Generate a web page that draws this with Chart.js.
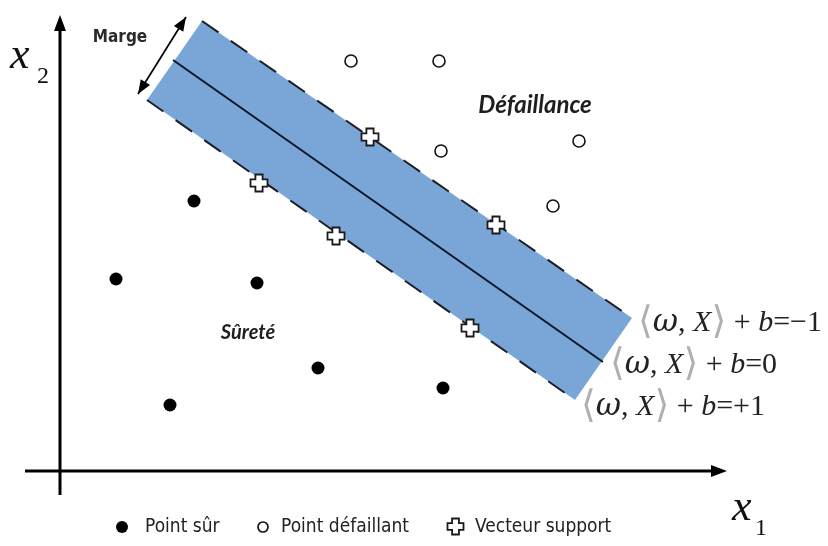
<!DOCTYPE html>
<html>
<head>
<meta charset="utf-8">
<script src="https://cdn.jsdelivr.net/npm/chart.js@4.4.0/dist/chart.umd.min.js"></script>
<style>
html,body{margin:0;background:#fff}
#wrap{width:828px;height:546px}
</style>
</head>
<body>
<div id="wrap"><canvas id="c"></canvas></div>
<script>
// coordonnées (x1, x2)
const surX = [13.4, 5.6, 19.7, 25.8, 11.0, 38.3];
const surY = [27.0, 19.2, 18.8, 10.3, 6.6, 8.3];
const defX = [29.1, 37.9, 38.1, 51.9, 49.3];
const defY = [41.0, 41.0, 32.0, 33.0, 26.5];
const supX = [31.0, 19.9, 27.6, 43.6, 41.0];
const supY = [33.4, 28.8, 23.5, 24.6, 14.3];

// hyperplan et bords de la marge
const hypX = [11.3, 54.3];
const hypY = [41.1, 10.9];
const hautX = [14.2, 57.2];
const hautY = [45.0, 15.3];
const basX = [8.7, 51.5];
const basY = [37.1, 7.1];

const legendLabels = ['Point sûr', 'Point défaillant', 'Vecteur support'];
const eqValues = ['−1', '0', '+1'];
const zoneLabels = ['Défaillance', 'Sûreté', 'Marge'];

const pts = (xs, ys) => xs.map((x, i) => ({x: x, y: ys[i]}));

function croix(s) {
	let c = document.createElement('canvas');
	c.width = s; c.height = s;
	let g = c.getContext('2d');
	let a = s / 2, L = s / 2 - 1.5, w = s * 0.18;
	let p = [[-w,-L],[w,-L],[w,-w],[L,-w],[L,w],[w,w],[w,L],[-w,L],[-w,w],[-L,w],[-L,-w],[-w,-w]];
	g.beginPath();
	p.forEach((q, i) => i ? g.lineTo(a + q[0], a + q[1]) : g.moveTo(a + q[0], a + q[1]));
	g.closePath();
	g.fillStyle = '#fff';
	g.fill();
	g.lineWidth = 1.8;
	g.strokeStyle = '#1a1a1a';
	g.stroke();
	return c;
}
const croixPoint = croix(20);
const croixLegende = croix(19);

function fleche(ctx, x0, y0, x1, y1, len, half) {
	let ang = Math.atan2(y1 - y0, x1 - x0);
	ctx.beginPath();
	ctx.moveTo(x1, y1);
	ctx.lineTo(x1 - len * Math.cos(ang) + half * Math.sin(ang), y1 - len * Math.sin(ang) - half * Math.cos(ang));
	ctx.lineTo(x1 - len * Math.cos(ang) - half * Math.sin(ang), y1 - len * Math.sin(ang) + half * Math.cos(ang));
	ctx.closePath();
	ctx.fill();
}

function equation(ctx, x, y, rhs) {
	let parts = [
		['⟨', '38px "DejaVu Serif"', '#b0b0b0'],
		['ω', 'italic 31px "DejaVu Serif"', '#222'],
		[', ', '30px "Liberation Serif"', '#222'],
		['X', 'italic 30px "Liberation Serif"', '#222'],
		['⟩', '38px "DejaVu Serif"', '#b0b0b0'],
		[' + ', '30px "Liberation Serif"', '#222'],
		['b', 'italic 30px "Liberation Serif"', '#222'],
		['=' + rhs, '30px "Liberation Serif"', '#222']
	];
	ctx.textBaseline = 'middle';
	ctx.textAlign = 'left';
	parts.forEach(p => {
		ctx.font = p[1];
		ctx.fillStyle = p[2];
		ctx.fillText(p[0], x, y);
		x += ctx.measureText(p[0]).width;
	});
}

const decor = {
	id: 'decor',
	afterDraw(chart) {
		let ctx = chart.ctx;
		let sx = chart.scales.x, sy = chart.scales.y;
		let X = v => sx.getPixelForValue(v), Y = v => sy.getPixelForValue(v);
		ctx.save();

		// axes
		ctx.strokeStyle = '#000';
		ctx.fillStyle = '#000';
		ctx.lineWidth = 3;
		ctx.beginPath();
		ctx.moveTo(X(-3.5), Y(0)); ctx.lineTo(X(65.5), Y(0));
		ctx.moveTo(X(0), Y(-2.4)); ctx.lineTo(X(0), Y(44.3));
		ctx.stroke();
		fleche(ctx, X(60), Y(0), X(66.7), Y(0), 16, 6);
		fleche(ctx, X(0), Y(40), X(0), Y(45.6), 16, 6);

		// double flèche de la marge
		ctx.lineWidth = 1.7;
		let a0 = [X(7.8), Y(37.7)], a1 = [X(12.6), Y(45.4)];
		ctx.beginPath();
		ctx.moveTo(a0[0], a0[1]); ctx.lineTo(a1[0], a1[1]);
		ctx.stroke();
		fleche(ctx, a0[0], a0[1], a1[0], a1[1], 14, 5.5);
		fleche(ctx, a1[0], a1[1], a0[0], a0[1], 14, 5.5);

		// libellés des axes
		ctx.fillStyle = '#111';
		ctx.textBaseline = 'alphabetic';
		ctx.textAlign = 'left';
		ctx.font = 'italic 44px "Liberation Serif"';
		ctx.fillText('x', 10, 68);
		ctx.fillText('x', 732, 520);
		ctx.font = '24px "Liberation Serif"';
		ctx.fillText('2', 37, 83);
		ctx.fillText('1', 755, 535);

		// zones
		ctx.textAlign = 'center';
		ctx.textBaseline = 'middle';
		ctx.fillStyle = '#1e1e1e';
		ctx.font = 'italic bold 24px Lato';
		ctx.fillText(zoneLabels[0], X(47.5), Y(36.6));
		ctx.font = 'italic bold 20px Lato';
		ctx.fillText(zoneLabels[1], X(18.8), Y(13.8));
		ctx.font = 'bold 17px "DejaVu Sans Condensed"';
		ctx.fillStyle = '#2a2a2a';
		ctx.fillText(zoneLabels[2], X(6.0), Y(43.3));

		// équations des hyperplans
		equation(ctx, X(57.8), Y(14.8), eqValues[0]);
		equation(ctx, X(55.0), Y(10.6), eqValues[1]);
		equation(ctx, X(52.1), Y(6.4), eqValues[2]);

		// légende
		let ly = 527;
		ctx.font = '19px "DejaVu Sans Condensed"';
		ctx.textAlign = 'left';
		ctx.beginPath(); ctx.arc(122, ly, 6, 0, 2 * Math.PI);
		ctx.fillStyle = '#000'; ctx.fill();
		ctx.fillStyle = '#222';
		ctx.fillText(legendLabels[0], 145, ly);
		ctx.beginPath(); ctx.arc(263, ly, 5, 0, 2 * Math.PI);
		ctx.lineWidth = 1.7; ctx.strokeStyle = '#111'; ctx.stroke();
		ctx.fillText(legendLabels[1], 281, ly);
		ctx.drawImage(croixLegende, 446, ly - 10);
		ctx.fillText(legendLabels[2], 475, ly);

		ctx.restore();
	}
};

let ctx = document.getElementById('c');
let bande = [
	{x: hautX[0], y: hautY[0]}, {x: hautX[1], y: hautY[1]},
	{x: basX[1], y: basY[1]}, {x: basX[0], y: basY[0]},
	{x: hautX[0], y: hautY[0]}
];

let data = {
	datasets: [
		{
			label: legendLabels[2],
			data: pts(supX, supY),
			pointStyle: croixPoint,
			pointRadius: 10
		},
		{
			label: legendLabels[0],
			data: pts(surX, surY),
			pointStyle: 'circle',
			pointRadius: 6.5,
			backgroundColor: '#000',
			borderColor: '#000',
			borderWidth: 0
		},
		{
			label: legendLabels[1],
			data: pts(defX, defY),
			pointStyle: 'circle',
			pointRadius: 6,
			backgroundColor: '#fff',
			borderColor: '#111',
			borderWidth: 1.6
		},
		{
			data: pts(hypX, hypY),
			showLine: true,
			pointRadius: 0,
			borderColor: '#0b1626',
			borderWidth: 2
		},
		{
			data: pts(hautX, hautY),
			showLine: true,
			pointRadius: 0,
			borderColor: '#1b1f26',
			borderWidth: 2,
			borderDash: [20, 15]
		},
		{
			data: pts(basX, basY),
			showLine: true,
			pointRadius: 0,
			borderColor: '#1b1f26',
			borderWidth: 2,
			borderDash: [20, 15]
		},
		{
			data: bande,
			showLine: true,
			pointRadius: 0,
			borderWidth: 0,
			borderColor: 'rgba(0,0,0,0)',
			backgroundColor: '#79a6d7',
			fill: 'shape'
		}
	]
};

let options = {
	responsive: true,
	maintainAspectRatio: false,
	animation: false,
	layout: {padding: 0, autoPadding: false},
	plugins: {
		legend: {display: false},
		tooltip: {enabled: false}
	},
	scales: {
		x: {type: 'linear', min: -6, max: 76.8, display: false},
		y: {type: 'linear', min: -7.5, max: 47.1, display: false}
	}
};

new Chart(ctx, {
	type: 'scatter',
	data: data,
	options: options,
	plugins: [decor]
});
</script>
</body>
</html>
